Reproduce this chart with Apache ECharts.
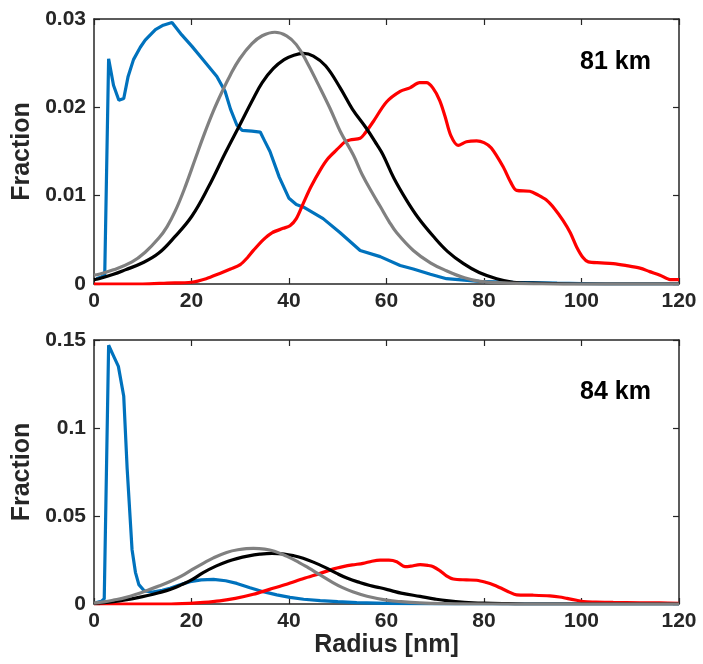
<!DOCTYPE html>
<html>
<head>
<meta charset="utf-8">
<script src="https://cdn.jsdelivr.net/npm/echarts@6/dist/echarts.min.js"></script>
<style>html,body{margin:0;padding:0;background:#fff}#c{width:703px;height:664px}</style>
</head>
<body>
<div id="c"></div>
<script>
// ---- Data (radius [nm], fraction) ----
const topBlue = [[0.5,0.0006],[1.5,0.0008],[2.2,0.001],[3.0,0.0255],[4,0.0225],[5.1,0.0208],[6.1,0.021],[7,0.0235],[8.1,0.0254],[9.5,0.0268],[10.5,0.0276],[12.6,0.0288],[14.2,0.0293],[16,0.0296],[18,0.0282],[20.1,0.0269],[22.2,0.0255],[25.2,0.0235],[26.9,0.0218],[28,0.0198],[29.3,0.018],[30.4,0.0174],[32.4,0.0173],[34.1,0.0172],[35,0.0162],[36.1,0.015],[38,0.0121],[40,0.0097],[41.5,0.009],[43,0.0087],[47,0.0074],[50.5,0.0058],[54.6,0.0038],[58.7,0.0031],[62.8,0.0021],[65.5,0.0017],[69,0.0011],[72.3,0.0006],[79,0.0003],[86,0.0002],[95,0.0001],[105,0],[120,0]];
const topRed = [[0,0],[10,0],[15,0.0001],[20,0.0002],[23,0.0006],[25.8,0.0012],[28,0.0017],[30,0.0022],[31.5,0.003],[32.7,0.0038],[34.7,0.005],[36.5,0.0058],[38.8,0.0063],[40.2,0.0066],[41.5,0.0074],[42.9,0.0091],[44.5,0.011],[46.4,0.0129],[48,0.0142],[49.8,0.0152],[51.5,0.0161],[52.5,0.0163],[54.6,0.0165],[55.5,0.017],[57.3,0.0184],[60,0.0206],[62.8,0.0218],[64.8,0.0222],[66.8,0.0228],[68.2,0.0228],[69.5,0.0222],[70.9,0.0208],[72,0.019],[73.2,0.0168],[74.7,0.0157],[76.4,0.0161],[78.5,0.0162],[80,0.016],[81.5,0.0154],[83.9,0.0133],[85.5,0.0115],[86.7,0.0106],[89.4,0.0105],[91,0.0101],[92.8,0.0095],[94.5,0.0085],[96.2,0.0072],[97.7,0.0058],[99,0.0042],[100.3,0.003],[101.4,0.0025],[104,0.0024],[106.5,0.0023],[109,0.0021],[112,0.0018],[114,0.0014],[116.1,0.001],[118.2,0.0005],[120,0.0005]];
const topBlack = [[0,0.0005],[1,0.0006],[4,0.0011],[6.4,0.0016],[10,0.0024],[13.3,0.0035],[16.5,0.0053],[20.1,0.0077],[23.5,0.011],[26.9,0.0148],[29.9,0.018],[32.5,0.0208],[34.5,0.0228],[36.8,0.0244],[39,0.0254],[41,0.0259],[42.9,0.0261],[45,0.0258],[47.5,0.0247],[50.5,0.0222],[53,0.0198],[55.9,0.0176],[58,0.0158],[59.3,0.0146],[61.5,0.012],[64.1,0.0095],[66.5,0.0075],[69.6,0.0054],[72.5,0.0037],[75.8,0.0023],[79,0.0013],[82.6,0.0006],[86,0.0002],[90,0.0001],[100,0],[120,0]];
const topGray = [[0,0.001],[1,0.0011],[4,0.0016],[7.8,0.0025],[10.5,0.0036],[13.3,0.0052],[15,0.0065],[16.7,0.0083],[18.5,0.0107],[20.8,0.0142],[22.5,0.0168],[24.5,0.0196],[26.3,0.0218],[28,0.0237],[29.9,0.0255],[32.4,0.0272],[34.5,0.0281],[37.1,0.0285],[39.5,0.0281],[41.5,0.0271],[43.6,0.0252],[46,0.0226],[48.4,0.0199],[50.5,0.0173],[53.2,0.0146],[55,0.0124],[57.3,0.0101],[58.7,0.0088],[60.5,0.0071],[62.1,0.0058],[65.5,0.0038],[69,0.0024],[72.3,0.0015],[76,0.0007],[79.2,0.0003],[85,0.0001],[95,0],[120,0]];

const botBlue = [[0.5,0.0008],[1.5,0.0015],[2.1,0.003],[3.0,0.147],[4,0.141],[5,0.135],[6.1,0.118],[6.8,0.077],[7.8,0.031],[8.5,0.018],[9.2,0.011],[10.3,0.0075],[12,0.0068],[14,0.0078],[15.6,0.0089],[17.5,0.0108],[19.7,0.0127],[22,0.0137],[24.5,0.014],[27,0.0132],[29.3,0.0117],[32,0.0092],[34.7,0.007],[37.5,0.0052],[40.2,0.0038],[43,0.0027],[46.4,0.0019],[50,0.0013],[53.9,0.0008],[60,0.0004],[70,0.0001],[80,0],[120,0]];
const botRed = [[0,0],[15,0],[19.7,0.0004],[22.5,0.0009],[25.8,0.0018],[29,0.0032],[32.7,0.0055],[36,0.0083],[39.5,0.0112],[43,0.0145],[46.4,0.0174],[49,0.0198],[51.1,0.0212],[53,0.0222],[55.2,0.0231],[57,0.0243],[58.7,0.0249],[60.5,0.0249],[62.1,0.024],[63.8,0.0212],[65,0.0215],[66.9,0.0224],[68.5,0.0219],[69.6,0.0212],[71,0.0188],[72.3,0.016],[73.7,0.0142],[76.4,0.0137],[78.5,0.0135],[80.5,0.0122],[82,0.0108],[83.3,0.0092],[85,0.007],[86.7,0.0052],[90,0.005],[93.5,0.0046],[95.5,0.004],[97,0.0032],[99,0.0021],[100.4,0.0013],[103,0.0011],[106.5,0.0009],[112,0.0007],[116,0.0006],[120,0.0004]];
const botBlack = [[0,0.0003],[2,0.0007],[4,0.0013],[6.4,0.0023],[9,0.0036],[11,0.0048],[13.3,0.0064],[15.6,0.0082],[18,0.011],[20.1,0.0138],[22.4,0.0178],[25,0.0215],[27.5,0.0243],[29.3,0.0258],[31.5,0.0272],[34,0.0283],[36.5,0.0288],[39,0.0284],[41,0.0274],[42.9,0.026],[45,0.0238],[47.5,0.0207],[49.8,0.0174],[52,0.0146],[54.5,0.0122],[56.6,0.0105],[58.7,0.0092],[61,0.0076],[63,0.0062],[66.9,0.0043],[70,0.0028],[72.3,0.0019],[76,0.001],[80,0.0005],[85,0.0002],[90,0],[120,0]];
const botGray = [[0,0.0005],[2,0.0012],[4,0.0022],[6.4,0.0036],[9,0.0058],[11,0.0078],[13.3,0.0102],[15.6,0.0128],[18,0.016],[20.1,0.0195],[22.4,0.0231],[24.5,0.0262],[27.2,0.0293],[29.5,0.0308],[32.7,0.0316],[35,0.0312],[37,0.03],[39.5,0.0272],[42,0.0237],[44,0.0205],[46.4,0.0165],[49,0.0122],[51,0.0093],[53.2,0.0068],[56,0.0044],[60,0.0022],[63,0.0013],[66.8,0.0006],[72,0.0002],[80,0],[120,0]];

const xTicks = [0, 20, 40, 60, 80, 100, 120];
const topYTicks = [0, 0.01, 0.02, 0.03];
const botYTicks = [0, 0.05, 0.1, 0.15];
const panelLabels = ['81 km', '84 km'];

const AX = '#262626';
const FONT = 'Liberation Sans, Arial, Helvetica, sans-serif';
const lbl = {color: AX, fontWeight: 'bold', fontSize: 21, fontFamily: FONT};
const nameStyle = {color: AX, fontWeight: 'bold', fontSize: 25, fontFamily: FONT};

function xAx(grid, pos, show) {
  return {
    type: 'value', gridIndex: grid, position: pos,
    min: xTicks[0], max: xTicks[xTicks.length - 1], interval: xTicks[1] - xTicks[0],
    axisLine: {show: true, onZero: false, lineStyle: {color: AX, width: 1.5}},
    axisTick: {show: true, inside: true, length: 6, lineStyle: {color: AX, width: 1.2}},
    axisLabel: show ? Object.assign({margin: 7}, lbl) : {show: false},
    splitLine: {show: false}
  };
}
function yAx(grid, pos, show, ticks) {
  return {
    type: 'value', gridIndex: grid, position: pos,
    min: ticks[0], max: ticks[ticks.length - 1], interval: ticks[1] - ticks[0],
    axisLine: {show: true, onZero: false, lineStyle: {color: AX, width: 1.5}},
    axisTick: {show: true, inside: true, length: 6, lineStyle: {color: AX, width: 1.2}},
    axisLabel: show ? Object.assign({margin: 8, formatter: v => String(+v.toFixed(4))}, lbl) : {show: false},
    splitLine: {show: false},
    name: show ? 'Fraction' : '', nameLocation: 'middle', nameGap: 58,
    nameTextStyle: nameStyle
  };
}

const xAxes = [xAx(0, 'bottom', true), xAx(0, 'top', false), xAx(1, 'bottom', true), xAx(1, 'top', false)];
xAxes[2].name = 'Radius [nm]';
xAxes[2].nameLocation = 'middle';
xAxes[2].nameGap = 29;
xAxes[2].nameTextStyle = nameStyle;

function line(data, color, xi, yi, smooth) {
  return {type: 'line', data: data, xAxisIndex: xi, yAxisIndex: yi, showSymbol: false, symbol: 'none',
    smooth: smooth, lineStyle: {color: color, width: 3.2}, itemStyle: {color: color}, z: 3, animation: false};
}

const chart = echarts.init(document.getElementById('c'), null, {renderer: 'canvas'});
chart.setOption({
  backgroundColor: '#fff',
  animation: false,
  grid: [
    {left: 94, top: 19, width: 585, height: 265},
    {left: 94, top: 340, width: 585, height: 264}
  ],
  xAxis: xAxes,
  yAxis: [yAx(0, 'left', true, topYTicks), yAx(0, 'right', false, topYTicks), yAx(1, 'left', true, botYTicks), yAx(1, 'right', false, botYTicks)],
  series: [
    line(topBlue, '#0072BD', 0, 0, false),
    line(topRed, '#FF0000', 0, 0, 0.3),
    line(topBlack, '#000000', 0, 0, 0.4),
    line(topGray, '#808080', 0, 0, 0.4),
    line(botBlue, '#0072BD', 2, 2, false),
    line(botRed, '#FF0000', 2, 2, 0.3),
    line(botBlack, '#000000', 2, 2, 0.4),
    line(botGray, '#808080', 2, 2, 0.4)
  ],
  graphic: [
    {type: 'text', left: 580, top: 50, style: {text: panelLabels[0], fill: '#000', font: 'bold 25px ' + FONT}},
    {type: 'text', left: 580, top: 380, style: {text: panelLabels[1], fill: '#000', font: 'bold 25px ' + FONT}}
  ]
});
</script>
</body>
</html>
